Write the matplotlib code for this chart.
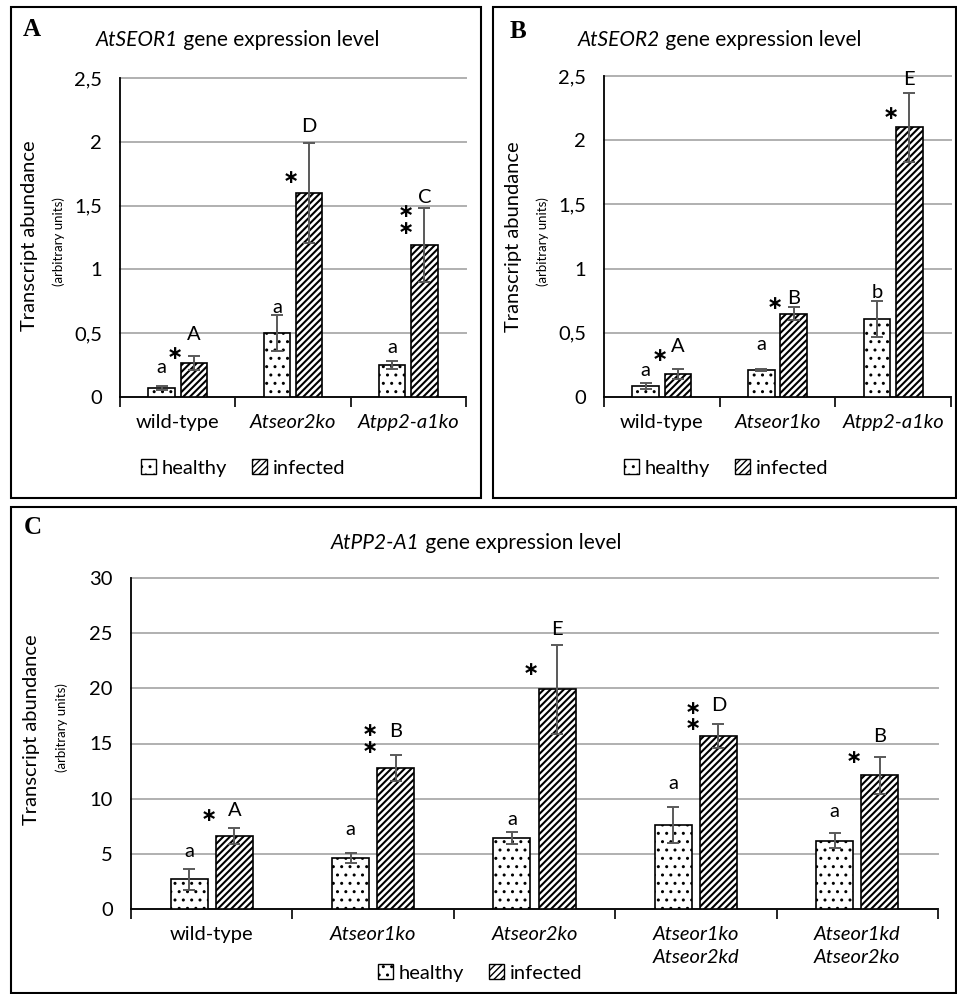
import numpy as np
import matplotlib
matplotlib.use("Agg")
import matplotlib.pyplot as plt
from matplotlib.patches import Rectangle, Patch

plt.rcParams['font.family'] = ['Lato', 'DejaVu Sans']

W, H = 957, 994

# ---- data ----
# panel A: AtSEOR1
a_cats = ["wild-type", "Atseor2ko", "Atpp2-a1ko"]
a_healthy = [0.07, 0.50, 0.25]
a_healthy_err = [0.015, 0.14, 0.03]
a_infected = [0.27, 1.60, 1.19]
a_infected_err = [0.055, 0.39, 0.29]
a_lab_h = ["a", "a", "a"]
a_lab_h_y = [0.23, 0.70, 0.39]
a_lab_i = ["A", "D", "C"]
a_lab_i_y = [0.49, 2.12, 1.56]
a_star = [1, 1, 2]
a_star_y = [0.34, 1.72, 1.39]

# panel B: AtSEOR2
b_cats = ["wild-type", "Atseor1ko", "Atpp2-a1ko"]
b_healthy = [0.085, 0.21, 0.61]
b_healthy_err = [0.025, 0.008, 0.14]
b_infected = [0.18, 0.65, 2.10]
b_infected_err = [0.04, 0.05, 0.27]
b_lab_h = ["a", "a", "b"]
b_lab_h_y = [0.21, 0.41, 0.81]
b_lab_i = ["A", "B", "E"]
b_lab_i_y = [0.39, 0.77, 2.47]
b_star = [1, 1, 1]
b_star_y = [0.32, 0.73, 2.21]

# panel C: AtPP2-A1
c_cats = ["wild-type", "Atseor1ko", "Atseor2ko", "Atseor1ko\nAtseor2kd", "Atseor1kd\nAtseor2ko"]
c_healthy = [2.7, 4.6, 6.4, 7.6, 6.2]
c_healthy_err = [0.95, 0.45, 0.55, 1.6, 0.7]
c_infected = [6.6, 12.8, 19.9, 15.7, 12.1]
c_infected_err = [0.7, 1.2, 4.0, 1.1, 1.7]
c_lab_h = ["a", "a", "a", "a", "a"]
c_lab_h_y = [5.2, 7.2, 8.1, 11.4, 8.8]
c_lab_i = ["A", "B", "E", "D", "B"]
c_lab_i_y = [8.9, 16.1, 25.3, 18.4, 15.6]
c_star = [1, 2, 1, 2, 1]
c_star_y = [8.5, 15.4, 21.7, 17.45, 13.7]

fig = plt.figure(figsize=(W / 100, H / 100), dpi=100)


def rect(l, r, t, b):
    return [l / W, 1 - b / H, (r - l) / W, (b - t) / H]


def hatched_bars(ax, xs, v, bw, hatch, hlw):
    with plt.rc_context({"hatch.linewidth": hlw}):
        bars = ax.bar(xs, v, bw, color="white", edgecolor="black", hatch=hatch, lw=1.2, zorder=3)
    for b in bars:
        if hasattr(b, "set_hatch_linewidth"):
            b.set_hatch_linewidth(hlw)
    return bars


def panel(ax, cats, hv, he, iv, ie, ymax, step, lab_h, lab_h_y, lab_i, lab_i_y,
          star, star_y, fs=14.5):
    n = len(cats)
    x = np.arange(n)
    off, bw = 0.14, 0.23
    hatched_bars(ax, x - off, hv, bw, "..", 1.0)
    hatched_bars(ax, x + off, iv, bw, "/////", 1.5)
    for xs, v, e in [(x - off, hv, he), (x + off, iv, ie)]:
        ax.errorbar(xs, v, yerr=e, fmt="none", ecolor="#595959", elinewidth=1.4,
                    capsize=4.5, capthick=1.4, zorder=4)
    ax.set_xlim(-0.5, n - 0.5)
    ax.set_ylim(0, ymax)
    yt = np.arange(0, ymax + step / 2, step)
    ax.set_yticks(yt)
    ax.set_yticklabels([("%g" % t).replace(".", ",") for t in yt], fontsize=fs)
    ax.yaxis.grid(True, color="#b0b0b0", lw=1.4, clip_on=False)
    ax.set_axisbelow(True)
    ax.tick_params(axis="y", length=0, pad=13)
    ax.set_xticks(np.arange(n + 1) - 0.5)
    ax.set_xticklabels([])
    ax.tick_params(axis="x", which="major", length=7, width=1.2, color="black")
    ax.set_xticks(x, minor=True)
    ax.set_xticklabels(cats, minor=True, fontsize=fs, linespacing=1.45)
    for i, t in enumerate(ax.xaxis.get_minorticklabels()):
        if i > 0:
            t.set_fontstyle("italic")
    ax.tick_params(axis="x", which="minor", length=0, pad=12)
    for s in ["top", "right"]:
        ax.spines[s].set_visible(False)
    for s in ["left", "bottom"]:
        ax.spines[s].set_color("black")
        ax.spines[s].set_linewidth(1.3)
    for i in range(n):
        ax.text(x[i] - off, lab_h_y[i], lab_h[i], ha="center", va="center", fontsize=fs)
        ax.text(x[i] + off, lab_i_y[i], lab_i[i], ha="center", va="center", fontsize=fs)
        ax.text(x[i] - 0.02, star_y[i], "\n".join(["\u2217"] * star[i]), ha="center",
                va="center", fontsize=14, fontweight="bold", family="DejaVu Sans",
                linespacing=0.85)


axA = fig.add_axes(rect(120, 466, 78, 397))
panel(axA, a_cats, a_healthy, a_healthy_err, a_infected, a_infected_err, 2.5, 0.5,
      a_lab_h, a_lab_h_y, a_lab_i, a_lab_i_y, a_star, a_star_y)
axB = fig.add_axes(rect(604, 951, 76, 397))
panel(axB, b_cats, b_healthy, b_healthy_err, b_infected, b_infected_err, 2.5, 0.5,
      b_lab_h, b_lab_h_y, b_lab_i, b_lab_i_y, b_star, b_star_y)
axC = fig.add_axes(rect(131, 938, 578, 909))
panel(axC, c_cats, c_healthy, c_healthy_err, c_infected, c_infected_err, 30, 5,
      c_lab_h, c_lab_h_y, c_lab_i, c_lab_i_y, c_star, c_star_y)

# panel frames
for l, r, t, b in [(11, 481, 7, 498), (493, 956, 7, 498), (11, 956, 507, 993)]:
    fig.patches.append(Rectangle((l / W, 1 - b / H), (r - l) / W, (b - t) / H,
                                 transform=fig.transFigure, fill=False,
                                 edgecolor="black", lw=1.5))


def fx(px):
    return px / W


def fy(py):
    return 1 - py / H


# panel letters
for s, px, py in [("A", 32, 30), ("B", 518, 32), ("C", 33, 528)]:
    fig.text(fx(px), fy(py), s, family="Liberation Serif", fontweight="bold",
             fontsize=18, ha="center", va="center")

# titles: italic gene name + regular text, centred together
renderer = fig.canvas.get_renderer()
for gene, px, py in [("AtSEOR1", 238, 40), ("AtSEOR2", 720, 40), ("AtPP2-A1", 476, 543)]:
    t1 = fig.text(0, fy(py), gene, fontsize=15, style="italic", ha="left", va="center")
    t2 = fig.text(0, fy(py), " gene expression level", fontsize=15, ha="left", va="center")
    w1 = t1.get_window_extent(renderer).width
    w2 = t2.get_window_extent(renderer).width
    x0 = px - (w1 + w2) / 2
    t1.set_x(fx(x0))
    t2.set_x(fx(x0 + w1))

# y labels
for px, px2, py, py2 in [(30, 59, 236, 242), (513, 543, 237, 242), (32, 62, 730, 728)]:
    fig.text(fx(px), fy(py), "Transcript abundance", rotation=90, fontsize=14.5,
             ha="center", va="center")
    fig.text(fx(px2), fy(py2), "(arbitrary units)", rotation=90, fontsize=9.5,
             ha="center", va="center")

# legends
with plt.rc_context({"hatch.linewidth": 1.2}):
    handles = [Patch(facecolor="white", edgecolor="black", hatch="..", lw=1.0, label="healthy"),
               Patch(facecolor="white", edgecolor="black", hatch="/////", lw=1.0, label="infected")]
for px, py in [(243, 468), (726, 468), (480, 973)]:
    fig.legend(handles=handles, loc="center", bbox_to_anchor=(fx(px), fy(py)), ncol=2,
               frameon=False, fontsize=14.5, handlelength=0.75, handleheight=0.75,
               handletextpad=0.3, columnspacing=1.2, borderpad=0)

fig.savefig("out.png", dpi=100)
